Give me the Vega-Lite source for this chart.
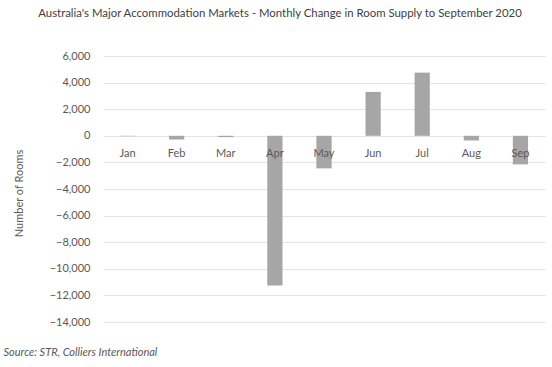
{
  "$schema": "https://vega.github.io/schema/vega-lite/v6.json",
  "width": 442,
  "height": 266,
  "autosize": {"type": "none"},
  "padding": {"left": 103, "top": 56, "right": 7, "bottom": 45},
  "background": "white",
  "config": {"view": {"stroke": null}, "font": "Lato"},
  "title": {
    "text": "Australia's Major Accommodation Markets - Monthly Change in Room Supply to September 2020",
    "frame": "bounds",
    "anchor": "middle",
    "fontSize": 11.4,
    "fontWeight": "normal",
    "color": "#404040",
    "offset": 31,
    "dx": 6
  },
  "data": {
    "values": [
      {"month": "Jan", "change": -30},
      {"month": "Feb", "change": -280},
      {"month": "Mar", "change": -100},
      {"month": "Apr", "change": -11250},
      {"month": "May", "change": -2450},
      {"month": "Jun", "change": 3300},
      {"month": "Jul", "change": 4750},
      {"month": "Aug", "change": -350},
      {"month": "Sep", "change": -2150}
    ]
  },
  "encoding": {
    "x": {
      "field": "month",
      "type": "nominal",
      "sort": null,
      "scale": {"paddingInner": 0.69, "paddingOuter": 0.345},
      "axis": {
        "labels": false,
        "ticks": false,
        "domain": false,
        "title": "Source: STR, Colliers International",
        "titleFont": "Lato",
        "titleFontStyle": "italic",
        "titleFontWeight": "normal",
        "titleFontSize": 11,
        "titleColor": "#595959",
        "titleAnchor": "start",
        "titleAlign": "left",
        "titleBaseline": "middle",
        "titleX": -100,
        "titleY": 30
      }
    }
  },
  "layer": [
    {
      "mark": {"type": "bar", "color": "#a6a6a6"},
      "encoding": {
        "y": {
          "field": "change",
          "type": "quantitative",
          "scale": {"domain": [-14000, 6000], "nice": false},
          "axis": {
            "values": [-14000, -12000, -10000, -8000, -6000, -4000, -2000, 0, 2000, 4000, 6000],
            "tickCount": 20,
            "format": ",.0f",
            "labelOverlap": false,
            "domain": false,
            "ticks": false,
            "labelPadding": 13,
            "labelFontSize": 11,
            "labelColor": "#595959",
            "gridColor": "#e3e3e3",
            "gridWidth": 1,
            "title": "Number of Rooms",
            "titleFontSize": 11,
            "titleFontWeight": "normal",
            "titleColor": "#595959",
            "titleX": -79,
            "titleY": 137
          }
        }
      }
    },
    {
      "mark": {"type": "text", "dy": 18, "baseline": "middle", "fontSize": 11, "color": "#595959"},
      "encoding": {
        "y": {"datum": 0},
        "text": {"field": "month"}
      }
    }
  ]
}
